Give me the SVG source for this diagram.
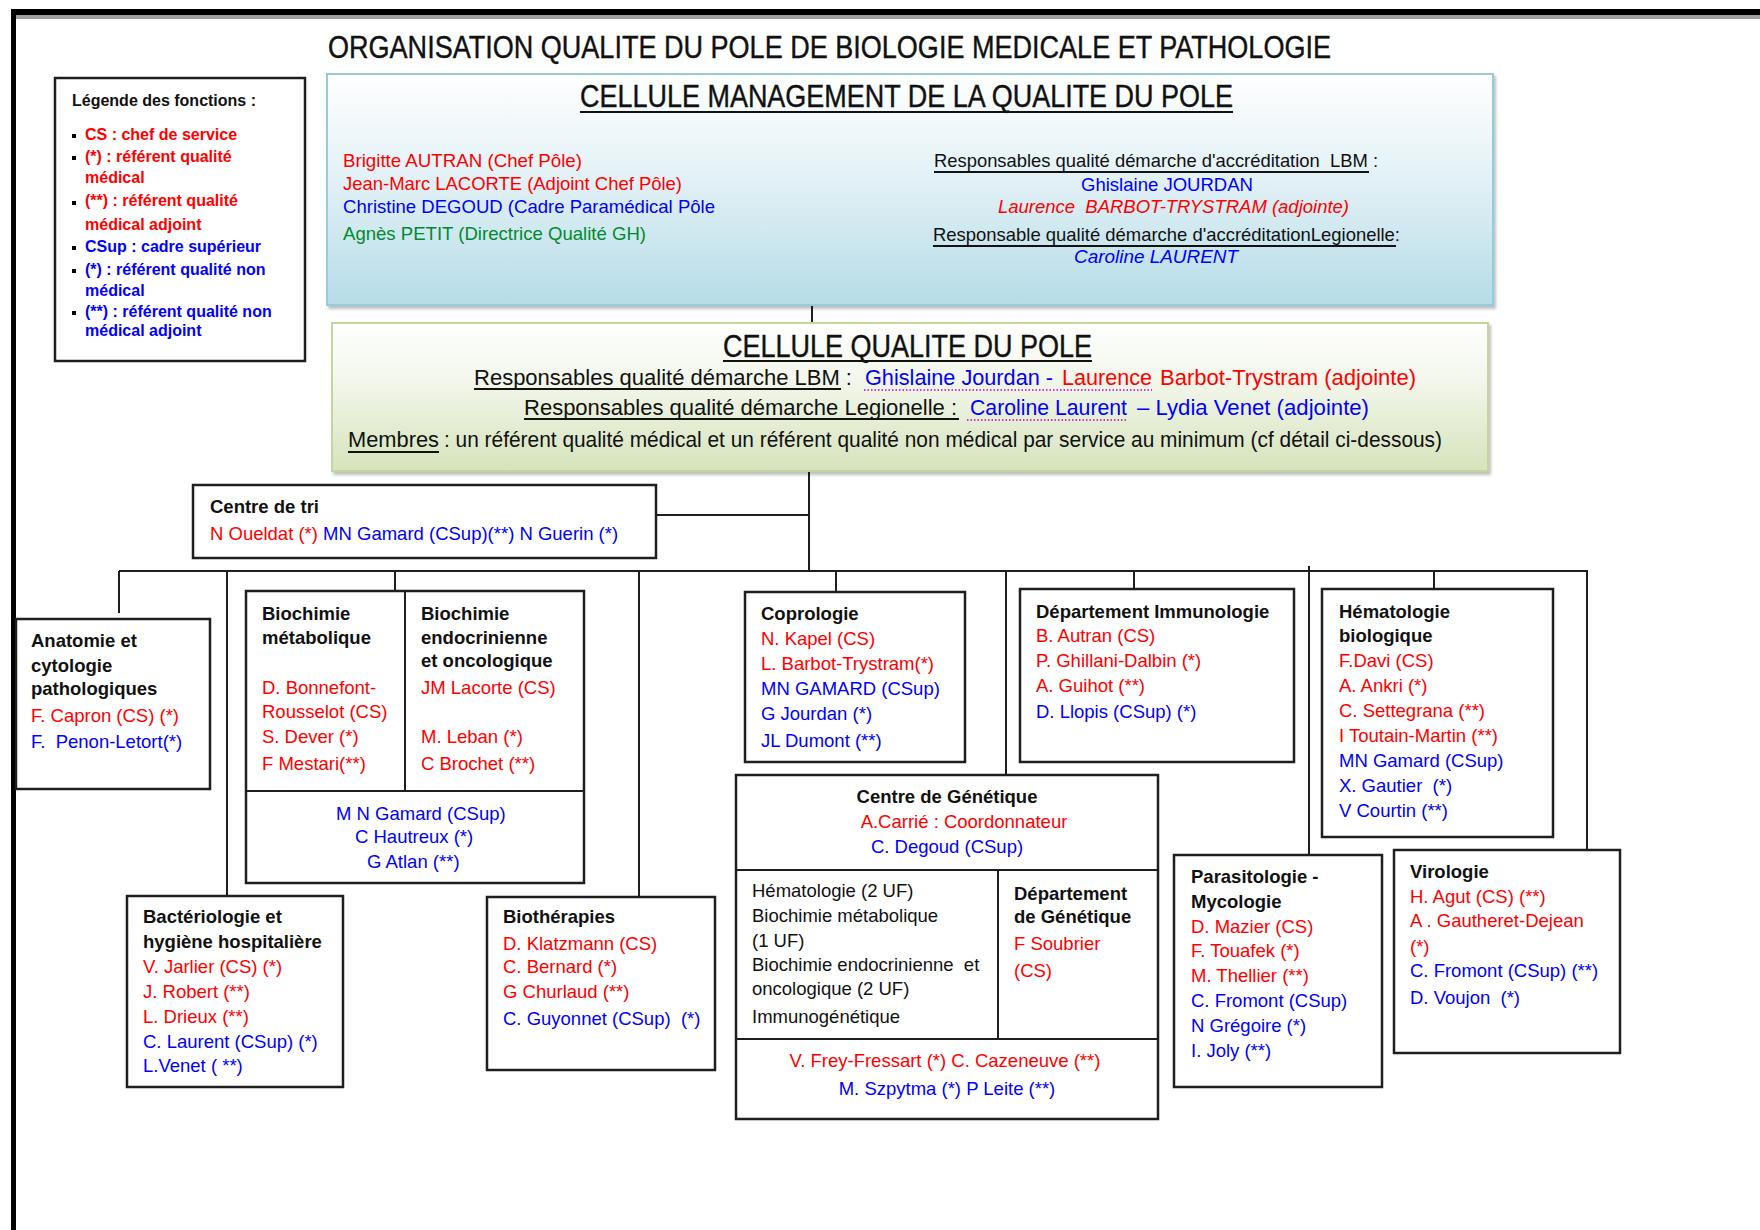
<svg xmlns="http://www.w3.org/2000/svg" width="1760" height="1230" viewBox="0 0 1760 1230">
  <defs>
    <linearGradient id="gBlue" x1="0" y1="0" x2="0" y2="1">
      <stop offset="0" stop-color="#ffffff"/>
      <stop offset="0.45" stop-color="#e2f1f6"/>
      <stop offset="1" stop-color="#b6dce7"/>
    </linearGradient>
    <linearGradient id="gGreen" x1="0" y1="0" x2="0" y2="1">
      <stop offset="0" stop-color="#ffffff"/>
      <stop offset="0.4" stop-color="#f2f6ea"/>
      <stop offset="1" stop-color="#d6e3bc"/>
    </linearGradient>
    <filter id="shadow" x="-2%" y="-5%" width="104%" height="115%">
      <feDropShadow dx="2" dy="3" stdDeviation="1.5" flood-color="#000" flood-opacity="0.25"/>
    </filter>
  </defs>
  <style>
    text { font-family: "Liberation Sans", Arial, sans-serif; font-size: 18.5px; white-space: pre; fill: #111; }
    .h { font-weight: bold; fill: #111; }
    .r { fill: #ff0000; }
    .b { fill: #0000ff; }
    .g { fill: #008a2e; }
    .k { fill: #111; }
    .i { font-style: italic; }
    .leg { font-size: 16px; font-weight: bold; }
    .q { font-size: 22px; }
    .t1 { font-size: 31px; stroke: #111; stroke-width: 0.4; }
    .t2 { font-size: 31px; stroke: #111; stroke-width: 0.4; }
    .t3 { font-size: 32px; stroke: #111; stroke-width: 0.4; }
    .box { fill: #ffffff; stroke: #1e1e1e; stroke-width: 2.5; }
    .ln { stroke: #1e1e1e; stroke-width: 2; fill: none; }
    .ul { stroke: #111; stroke-width: 2; }
    .dot { stroke: #c000c0; stroke-width: 1.5; stroke-dasharray: 1.5 2; }
  </style>

  <rect width="1760" height="1230" fill="#ffffff"/>

  <!-- page frame -->
  <g id="frame">
    <rect x="15" y="15" width="1745" height="4" fill="#a0a0a0"/>
    <rect x="11" y="9" width="1749" height="6" fill="#000"/>
    <rect x="11" y="9" width="5" height="1221" fill="#000"/>
  </g>

  <text id="title" class="t1" x="328" y="58" textLength="1003" lengthAdjust="spacingAndGlyphs">ORGANISATION QUALITE DU POLE DE BIOLOGIE MEDICALE ET PATHOLOGIE</text>

  <!-- connectors -->
  <g id="connectors" class="ln">
    <line x1="812" y1="305" x2="812" y2="323"/>
    <line x1="809" y1="471" x2="809" y2="571"/>
    <line x1="656" y1="515" x2="809" y2="515"/>
    <line x1="119" y1="571" x2="1588" y2="571"/>
    <line x1="119" y1="571" x2="119" y2="613"/>
    <line x1="227" y1="571" x2="227" y2="896"/>
    <line x1="395" y1="571" x2="395" y2="591"/>
    <line x1="639" y1="571" x2="639" y2="897"/>
    <line x1="836" y1="571" x2="836" y2="592"/>
    <line x1="1006" y1="571" x2="1006" y2="775"/>
    <line x1="1134" y1="571" x2="1134" y2="589"/>
    <line x1="1309" y1="566" x2="1309" y2="855"/>
    <line x1="1434" y1="571" x2="1434" y2="589"/>
    <line x1="1587" y1="571" x2="1587" y2="850"/>
  </g>

  <!-- legend -->
  <g id="legende">
    <rect class="box" x="55" y="78" width="250" height="283"/>
    <text class="leg" x="72" y="106">Légende des fonctions :</text>
    <g fill="#000">
      <rect x="72" y="134" width="4" height="4"/>
      <rect x="72" y="156" width="4" height="4"/>
      <rect x="72" y="201" width="4" height="4"/>
      <rect x="72" y="246" width="4" height="4"/>
      <rect x="72" y="269" width="4" height="4"/>
      <rect x="72" y="311" width="4" height="4"/>
    </g>
    <text class="leg r" x="85" y="140">CS : chef de service</text>
    <text class="leg r" x="85" y="162">(*) : référent qualité</text>
    <text class="leg r" x="85" y="183">médical</text>
    <text class="leg r" x="85" y="206">(**) : référent qualité</text>
    <text class="leg r" x="85" y="230">médical adjoint</text>
    <text class="leg b" x="85" y="252">CSup : cadre supérieur</text>
    <text class="leg b" x="85" y="275">(*) : référent qualité non</text>
    <text class="leg b" x="85" y="296">médical</text>
    <text class="leg b" x="85" y="317">(**) : référent qualité non</text>
    <text class="leg b" x="85" y="336">médical adjoint</text>
  </g>

  <!-- quality management cell -->
  <g id="cellule-management">
    <rect x="327" y="74" width="1166" height="231" fill="url(#gBlue)" stroke="#93cddd" stroke-width="2" filter="url(#shadow)"/>
    <text class="t2" x="580" y="107" textLength="653" lengthAdjust="spacingAndGlyphs">CELLULE MANAGEMENT DE LA QUALITE DU POLE</text>
    <line class="ul" x1="580" y1="112" x2="1233" y2="112"/>
    <text class="r" x="343" y="167" textLength="239" lengthAdjust="spacingAndGlyphs">Brigitte AUTRAN (Chef Pôle)</text>
    <text class="r" x="343" y="190" textLength="339" lengthAdjust="spacingAndGlyphs">Jean-Marc LACORTE (Adjoint Chef Pôle)</text>
    <text class="b" x="343" y="213" textLength="372" lengthAdjust="spacingAndGlyphs">Christine DEGOUD (Cadre Paramédical Pôle</text>
    <text class="g" x="343" y="240" textLength="303" lengthAdjust="spacingAndGlyphs">Agnès PETIT (Directrice Qualité GH)</text>
    <text x="934" y="167" textLength="444" lengthAdjust="spacingAndGlyphs">Responsables qualité démarche d'accréditation  LBM :</text>
    <line class="ul" x1="934" y1="172" x2="1369" y2="172"/>
    <text class="b" x="1081" y="191" textLength="172" lengthAdjust="spacingAndGlyphs">Ghislaine JOURDAN</text>
    <text class="r i" x="998" y="213" textLength="351" lengthAdjust="spacingAndGlyphs">Laurence  BARBOT-TRYSTRAM (adjointe)</text>
    <text x="933" y="241" textLength="467" lengthAdjust="spacingAndGlyphs">Responsable qualité démarche d'accréditationLegionelle:</text>
    <line class="ul" x1="933" y1="246" x2="1396" y2="246"/>
    <text class="b i" x="1074" y="263" textLength="164" lengthAdjust="spacingAndGlyphs">Caroline LAURENT</text>
  </g>

  <!-- pole quality cell -->
  <g id="cellule-qualite">
    <rect x="332" y="323" width="1156" height="148" fill="url(#gGreen)" stroke="#c3d69b" stroke-width="2" filter="url(#shadow)"/>
    <text class="t3" x="723" y="357" textLength="369" lengthAdjust="spacingAndGlyphs">CELLULE QUALITE DU POLE</text>
    <line class="ul" x1="723" y1="361" x2="1092" y2="361"/>

    <text class="q" x="474" y="385" textLength="378" lengthAdjust="spacingAndGlyphs">Responsables qualité démarche LBM :</text>
    <line class="ul" x1="474" y1="389" x2="841" y2="389"/>
    <text class="q b" x="865" y="385" textLength="188" lengthAdjust="spacingAndGlyphs">Ghislaine Jourdan -</text>
    <text class="q r" x="1062" y="385" textLength="90" lengthAdjust="spacingAndGlyphs">Laurence</text>
    <line class="dot" x1="864" y1="390" x2="1152" y2="390"/>
    <text class="q r" x="1160" y="385" textLength="256" lengthAdjust="spacingAndGlyphs">Barbot-Trystram (adjointe)</text>

    <text class="q" x="524" y="415" textLength="433" lengthAdjust="spacingAndGlyphs">Responsables qualité démarche Legionelle :</text>
    <line class="ul" x1="524" y1="419" x2="959" y2="419"/>
    <text class="q b" x="970" y="415" textLength="157" lengthAdjust="spacingAndGlyphs">Caroline Laurent</text>
    <line class="dot" x1="967" y1="420" x2="1127" y2="420"/>
    <text class="q b" x="1137" y="415" textLength="232" lengthAdjust="spacingAndGlyphs">– Lydia Venet (adjointe)</text>

    <text class="q" x="348" y="447" textLength="91" lengthAdjust="spacingAndGlyphs">Membres</text>
    <line class="ul" x1="348" y1="452" x2="439" y2="452"/>
    <text class="q" x="444" y="447" textLength="998" lengthAdjust="spacingAndGlyphs">: un référent qualité médical et un référent qualité non médical par service au minimum (cf détail ci-dessous)</text>
  </g>

  <!-- sorting centre -->
  <g id="centre-de-tri">
    <rect class="box" x="193" y="485" width="463" height="73"/>
    <text class="h" x="210" y="513">Centre de tri</text>
    <text x="210" y="540"><tspan class="r">N Oueldat (*) </tspan><tspan class="b">MN Gamard (CSup)(**) N Guerin (*)</tspan></text>
  </g>

  <!-- departments -->
  <g id="anatomie">
    <rect class="box" x="16" y="619" width="194" height="170"/>
    <text class="h" x="31" y="647">Anatomie et</text>
    <text class="h" x="31" y="672">cytologie</text>
    <text class="h" x="31" y="695">pathologiques</text>
    <text class="r" x="31" y="722">F. Capron (CS) (*)</text>
    <text class="b" x="31" y="748">F.  Penon-Letort(*)</text>
  </g>

  <g id="biochimie">
    <rect class="box" x="246" y="591" width="338" height="292"/>
    <line class="ln" x1="405" y1="591" x2="405" y2="791"/>
    <line class="ln" x1="246" y1="791" x2="584" y2="791"/>
    <text class="h" x="262" y="620">Biochimie</text>
    <text class="h" x="262" y="644">métabolique</text>
    <text class="r" x="262" y="694">D. Bonnefont-</text>
    <text class="r" x="262" y="718">Rousselot (CS)</text>
    <text class="r" x="262" y="743">S. Dever (*)</text>
    <text class="r" x="262" y="770">F Mestari(**)</text>
    <text class="h" x="421" y="620">Biochimie</text>
    <text class="h" x="421" y="644">endocrinienne</text>
    <text class="h" x="421" y="667">et oncologique</text>
    <text class="r" x="421" y="694">JM Lacorte (CS)</text>
    <text class="r" x="421" y="743">M. Leban (*)</text>
    <text class="r" x="421" y="770">C Brochet (**)</text>
    <text class="b" x="336" y="820">M N Gamard (CSup)</text>
    <text class="b" x="355" y="843">C Hautreux (*)</text>
    <text class="b" x="367" y="868">G Atlan (**)</text>
  </g>

  <g id="coprologie">
    <rect class="box" x="745" y="592" width="220" height="170"/>
    <text class="h" x="761" y="620">Coprologie</text>
    <text class="r" x="761" y="645">N. Kapel (CS)</text>
    <text class="r" x="761" y="670">L. Barbot-Trystram(*)</text>
    <text class="b" x="761" y="695">MN GAMARD (CSup)</text>
    <text class="b" x="761" y="720">G Jourdan (*)</text>
    <text class="b" x="761" y="747">JL Dumont (**)</text>
  </g>

  <g id="immunologie">
    <rect class="box" x="1020" y="589" width="274" height="173"/>
    <text class="h" x="1036" y="618">Département Immunologie</text>
    <text class="r" x="1036" y="642">B. Autran (CS)</text>
    <text class="r" x="1036" y="667">P. Ghillani-Dalbin (*)</text>
    <text class="r" x="1036" y="692">A. Guihot (**)</text>
    <text class="b" x="1036" y="718">D. Llopis (CSup) (*)</text>
  </g>

  <g id="hematologie">
    <rect class="box" x="1322" y="589" width="231" height="248"/>
    <text class="h" x="1339" y="618">Hématologie</text>
    <text class="h" x="1339" y="642">biologique</text>
    <text class="r" x="1339" y="667">F.Davi (CS)</text>
    <text class="r" x="1339" y="692">A. Ankri (*)</text>
    <text class="r" x="1339" y="717">C. Settegrana (**)</text>
    <text class="r" x="1339" y="742">I Toutain-Martin (**)</text>
    <text class="b" x="1339" y="767">MN Gamard (CSup)</text>
    <text class="b" x="1339" y="792">X. Gautier  (*)</text>
    <text class="b" x="1339" y="817">V Courtin (**)</text>
  </g>

  <g id="genetique">
    <rect class="box" x="736" y="775" width="422" height="344"/>
    <line class="ln" x1="736" y1="870" x2="1158" y2="870"/>
    <line class="ln" x1="998" y1="870" x2="998" y2="1039"/>
    <line class="ln" x1="736" y1="1039" x2="1158" y2="1039"/>
    <text class="h" x="947" y="803" text-anchor="middle">Centre de Génétique</text>
    <text class="r" x="964" y="828" text-anchor="middle">A.Carrié : Coordonnateur</text>
    <text class="b" x="947" y="853" text-anchor="middle">C. Degoud (CSup)</text>
    <text class="k" x="752" y="897">Hématologie (2 UF)</text>
    <text class="k" x="752" y="922">Biochimie métabolique</text>
    <text class="k" x="752" y="947">(1 UF)</text>
    <text class="k" x="752" y="971">Biochimie endocrinienne  et</text>
    <text class="k" x="752" y="995">oncologique (2 UF)</text>
    <text class="k" x="752" y="1023">Immunogénétique</text>
    <text class="h" x="1014" y="900">Département</text>
    <text class="h" x="1014" y="923">de Génétique</text>
    <text class="r" x="1014" y="950">F Soubrier</text>
    <text class="r" x="1014" y="977">(CS)</text>
    <text class="r" x="945" y="1067" text-anchor="middle">V. Frey-Fressart (*) C. Cazeneuve (**)</text>
    <text class="b" x="947" y="1095" text-anchor="middle">M. Szpytma (*) P Leite (**)</text>
  </g>

  <g id="parasitologie">
    <rect class="box" x="1174" y="855" width="208" height="232"/>
    <text class="h" x="1191" y="883">Parasitologie -</text>
    <text class="h" x="1191" y="908">Mycologie</text>
    <text class="r" x="1191" y="933">D. Mazier (CS)</text>
    <text class="r" x="1191" y="957">F. Touafek (*)</text>
    <text class="r" x="1191" y="982">M. Thellier (**)</text>
    <text class="b" x="1191" y="1007">C. Fromont (CSup)</text>
    <text class="b" x="1191" y="1032">N Grégoire (*)</text>
    <text class="b" x="1191" y="1057">I. Joly (**)</text>
  </g>

  <g id="virologie">
    <rect class="box" x="1394" y="850" width="226" height="203"/>
    <text class="h" x="1410" y="878">Virologie</text>
    <text class="r" x="1410" y="903">H. Agut (CS) (**)</text>
    <text class="r" x="1410" y="927">A . Gautheret-Dejean</text>
    <text class="r" x="1410" y="953">(*)</text>
    <text class="b" x="1410" y="977">C. Fromont (CSup) (**)</text>
    <text class="b" x="1410" y="1004">D. Voujon  (*)</text>
  </g>

  <g id="bacteriologie">
    <rect class="box" x="127" y="896" width="216" height="191"/>
    <text class="h" x="143" y="923">Bactériologie et</text>
    <text class="h" x="143" y="948">hygiène hospitalière</text>
    <text class="r" x="143" y="973">V. Jarlier (CS) (*)</text>
    <text class="r" x="143" y="998">J. Robert (**)</text>
    <text class="r" x="143" y="1023">L. Drieux (**)</text>
    <text class="b" x="143" y="1048">C. Laurent (CSup) (*)</text>
    <text class="b" x="143" y="1072">L.Venet ( **)</text>
  </g>

  <g id="biotherapies">
    <rect class="box" x="487" y="897" width="228" height="173"/>
    <text class="h" x="503" y="923">Biothérapies</text>
    <text class="r" x="503" y="950">D. Klatzmann (CS)</text>
    <text class="r" x="503" y="973">C. Bernard (*)</text>
    <text class="r" x="503" y="998">G Churlaud (**)</text>
    <text class="b" x="503" y="1025">C. Guyonnet (CSup)  (*)</text>
  </g>
</svg>
